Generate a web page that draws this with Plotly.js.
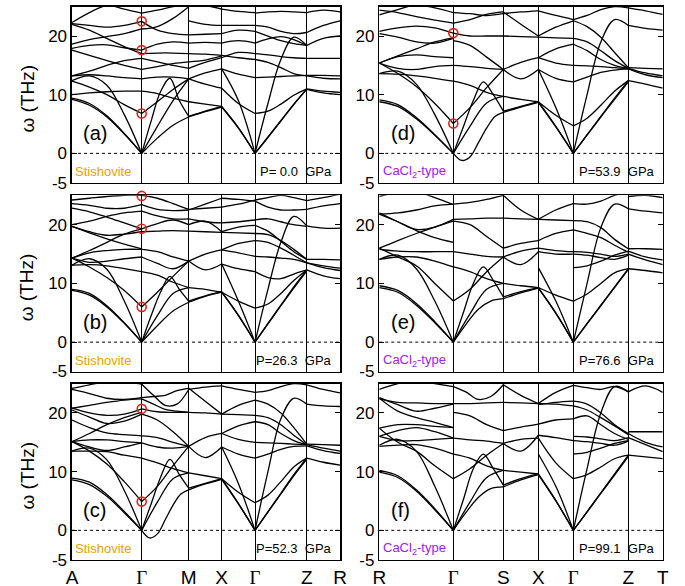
<!DOCTYPE html>
<html><head><meta charset="utf-8">
<script src="https://cdn.plot.ly/plotly-3.0.1.min.js"></script>
<style>html,body{margin:0;padding:0;background:#fff}#chart{width:685px;height:586px}</style>
</head><body><div id="chart"></div>
<script>
// k-path labels and positions (path length units)
const leftLabels = ['A','Γ','M','X','Γ','Z','R'];
const rightLabels = ['R','Γ','S','X','Γ','Z','T'];
const leftPos = [0, 69.7, 116.7, 149.7, 183, 234.7, 268];
const rightPos = [0, 74, 124, 159, 194, 249, 283.4];
const yTicks = [-5, 0, 10, 20];
const yTickText = ['-5', '0', '10', '20'];
const panelNames = ['(a)','(b)','(c)','(d)','(e)','(f)'];
const phaseNames = ['Stishovite','Stishovite','Stishovite','CaCl<sub>2</sub>-type','CaCl<sub>2</sub>-type','CaCl<sub>2</sub>-type'];
const pressureText = ['P=\u00a00.0\u00a0\u00a0GPa','P=26.3\u00a0\u00a0GPa','P=52.3\u00a0\u00a0GPa','P=53.9\u00a0\u00a0GPa','P=76.6\u00a0\u00a0GPa','P=99.1\u00a0\u00a0GPa'];

// Red marked modes at Gamma (THz)
const circA = [22.5, 17.6, 6.8];
const circB = [24.9, 19.3, 6.0];
const circC = [20.7, 4.9];
const circD = [20.5, 5.1];
const circE = [];
const circF = [];

// Phonon branches (THz), per path segment, values sampled evenly along each segment
const bandsA = [
 [[22.3,24.0,25.2,24.6,23.9],[22.1,21.8,21.5,21.8,22.5],[22.0,21.0,19.6,18.2,17.0],[18.6,19.4,19.9,20.4,21.2],
  [17.9,18.4,18.5,18.0,17.6],[17.6,16.7,15.8,15.0,14.3],[13.2,14.0,15.0,15.8,16.2],[13.2,13.4,13.2,12.9,12.7],
  [10.0,10.3,10.5,10.6,10.6],[12.3,11.3,10.0,8.3,6.8],[9.2,8.2,6.2,3.3,0],[9.4,8.5,6.4,3.4,0],[12.4,13.2,11.6,6.6,0]],
 [[23.9,24.4,25.0,25.4],[22.5,21.0,20.4,20.2],[21.2,21.6,23.0,25.0],[17.6,18.6,19.0,18.8],[17.0,17.1,17.1,17.0],
  [16.2,15.6,15.0,14.5],[14.3,14.8,15.3,15.6],[12.7,13.0,13.0,12.7],[10.6,10.2,9.4,8.8],[6.8,8.8,10.9,12.7],
  [0,4.6,9.0,12.7],[0,2.6,4.8,6.2],[0,5.5,10.5,12.8,9.0,6.3]],
 [[25.4,25.2,24.6],[20.2,20.3,20.4],[18.8,18.9,18.8],[17.0,16.9,16.7],[15.6,15.9,16.6],[14.5,15.5,16.3],
  [12.7,13.7,14.4],[12.7,11.8,11.1],[8.8,8.4,8.0],[6.3,7.2,8.0],[6.2,7.1,7.9],[22.6,22.0,21.8]],
 [[24.6,24.2,24.0],[21.8,21.8,21.8],[20.4,21.0,20.8],[18.8,19.2,18.8],[16.7,16.3,16.0],[16.3,17.2,17.0],
  [14.4,13.5,12.9],[11.1,8.5,6.8],[8.0,4.4,0],[7.9,4.3,0],[14.4,9.0,0]],
 [[23.9,24.1,24.2,24.1,24.0],[21.8,21.5,20.8,20.4,20.6],[20.8,20.0,19.2,18.7,18.4],[18.8,19.5,19.9,19.4,18.4],
  [0,8.5,16.0,19.8,18.4],[16.0,15.5,14.6,13.6,13.2],[12.9,13.0,13.1,13.2,13.3],[6.8,7.2,8.4,9.9,11.0],
  [0,2.8,5.6,8.4,11.0],[0,2.7,5.5,8.3,10.9],[17.0,16.8,16.5,16.3,16.2]],
 [[24.0,24.4,24.1],[20.6,21.8,22.6],[18.4,19.6,20.0],[16.2,16.2,16.2],[13.3,13.3,13.2],[13.2,12.8,12.7],
  [11.0,10.6,10.4],[10.9,10.3,10.0]]
];

const bandsB = [
 [[24.2,24.5,24.8,25.0,25.0],[23.6,23.3,22.8,22.8,23.4],[22.8,22.2,21.3,20.3,19.3],[20.0,20.6,21.4,22.0,22.3],
  [19.7,18.8,18.2,18.4,18.8],[19.7,18.6,17.6,16.7,15.9],[14.3,15.6,17.0,18.4,19.3],[14.3,15.2,15.6,15.8,15.8],
  [14.3,13.6,13.8,14.2,14.5],[13.1,13.2,13.0,12.5,12.0],[14.3,12.8,11.0,8.8,6.0],[8.8,8.0,6.0,3.2,0],
  [9.0,8.3,6.2,3.3,0],[13.1,14.2,12.4,7.0,0]],
 [[25.0,24.5,23.6,22.6],[23.4,22.6,22.4,22.5],[22.3,21.5,21.0,21.0],[19.3,20.2,20.8,20.0],[18.8,18.9,19.0,18.9],
  [15.8,15.4,14.5,13.8],[14.5,13.4,12.5,13.8],[12.0,11.4,10.2,9.3],[6.0,8.5,11.2,13.8],[0,4.5,8.3,9.3],
  [0,2.8,5.3,6.8],[0,4.5,8.5,11.2,9.0,7.0]],
 [[22.6,22.8,23.0],[22.5,23.5,24.5],[20.0,20.6,18.8],[21.0,20.5,20.3],[18.9,18.8,18.7],[13.8,12.3,13.3],
  [13.8,15.0,15.7],[9.3,9.0,8.5],[6.8,7.8,8.5],[7.0,7.9,8.6]],
 [[23.0,23.5,24.2],[24.5,24.3,24.0],[18.7,18.6,18.5],[18.8,19.6,19.9],[20.3,20.5,20.8],[15.7,16.8,17.3],
  [15.7,15.2,14.6],[13.3,12.5,12.0],[8.5,7.0,5.8],[8.5,4.6,0],[8.6,4.5,0],[13.3,7.0,0]],
 [[24.2,24.6,25.0,24.6,24.1],[24.0,23.0,22.5,22.5,22.6],[20.8,21.0,20.5,20.0,19.7],[19.9,18.9,17.2,15.4,14.1],
  [18.5,18.3,17.3,15.8,14.1],[17.3,17.0,16.0,14.8,13.5],[14.6,14.5,14.3,14.1,13.5],[0,9.0,17.0,21.4,19.8],
  [12.0,11.0,10.8,11.6,12.3],[5.8,6.5,8.3,10.5,12.3],[0,3.2,6.3,9.4,12.3],[0,3.1,6.2,9.2,12.1]],
 [[24.1,24.6,25.2],[22.6,23.2,23.6],[19.8,19.4,19.4],[14.1,14.1,14.0],[13.5,13.0,12.6],[13.5,12.7,12.2],
  [12.3,11.3,10.8]]
];

const bandsC = [
 [[24.2,24.8,25.3,25.3,24.9],[24.0,23.3,22.5,22.3,22.6],[20.8,21.3,21.8,22.2,22.4],[20.8,20.0,19.6,19.8,20.7],
  [20.5,19.3,18.2,18.6,19.8],[18.8,17.5,16.6,16.3,16.1],[15.1,16.5,18.0,19.2,20.1],[15.1,15.4,15.4,15.1,14.9],
  [15.1,14.2,13.6,14.2,14.9],[13.5,13.5,13.4,12.8,12.3],[15.1,13.5,11.3,8.3,4.9],[8.6,7.8,5.8,3.0,0],
  [8.9,8.2,6.1,3.2,0],[13.5,14.0,12.0,6.8,0]],
 [[24.9,23.0,21.3,21.5,24.0],[22.6,22.8,23.0,23.8,24.2],[22.4,21.5,20.6,20.3,20.1],[20.7,20.2,20.1,20.1],
  [19.8,18.8,16.8,14.3],[16.1,15.8,15.0,14.3],[14.9,14.2,14.0,14.3],[12.3,11.5,10.5,9.8],[4.9,7.5,11.0,14.3],
  [0,4.8,8.8,9.8],[0,-1.3,-0.6,1.8,4.3,6.2,6.9],[0,4.5,9.0,12.1,9.5,7.2]],
 [[24.0,24.4,24.6],[24.2,22.0,19.8],[20.1,20.0,19.8],[14.3,12.4,14.2],[14.3,15.8,16.5],[9.8,9.3,8.8],
  [7.2,8.0,8.8],[6.9,7.9,8.7]],
 [[19.8,21.3,22.2],[24.6,24.0,23.5],[19.8,19.7,19.6],[16.5,17.8,18.5],[16.5,15.5,15.0],[14.2,13.0,12.3],
  [8.8,6.5,4.7],[8.8,4.6,0],[8.7,4.5,0],[14.2,8.0,0]],
 [[22.2,21.5,20.0,17.5,14.7],[23.5,23.8,24.5,25.0,24.8],[19.6,19.2,18.0,16.2,14.6],[18.5,18.0,16.5,15.3,14.6],
  [15.0,14.9,14.8,14.7,14.6],[0,10.0,19.0,22.5,21.5],[4.7,6.0,8.3,10.8,12.3],[0,3.2,6.3,9.5,12.3],
  [0,3.1,6.2,9.3,12.1],[12.3,13.0,13.8,14.3,14.4]],
 [[24.8,24.0,23.4],[21.5,21.2,21.1],[14.7,14.6,14.5],[14.6,14.0,13.5],[14.4,13.6,13.1],[12.3,11.6,11.1]]
];

const bandsD = [
 [[24.4,24.0,23.3,22.7,22.2],[23.6,24.5,25.3,24.8,24.0],[20.8,21.4,21.7,21.4,20.5],[20.4,19.8,19.0,18.8,19.6],
  [15.4,16.6,17.8,19.0,19.7],[15.4,16.5,16.8,16.5,16.3],[15.4,14.5,14.3,14.8,15.0],[13.6,13.5,13.2,12.8,12.3],
  [15.4,13.6,11.4,8.5,5.1],[8.8,8.0,5.9,3.1,0],[9.1,8.3,6.1,3.2,0],[13.6,14.0,11.8,6.6,0]],
 [[22.2,22.8,23.7,24.1],[24.0,23.8,23.5,23.8],[20.5,20.0,20.0,20.0],[19.2,18.4,16.4,14.3],[15.0,14.8,14.5,14.3],
  [12.3,11.6,10.4,9.7],[5.1,7.8,11.2,14.3],[0,4.6,8.6,9.7],[0,-1.2,-0.6,1.8,4.3,6.3,7.0],[0,4.5,9.0,12.2,10.0,7.2]],
 [[24.1,22.0,20.0],[23.8,24.1,24.3],[20.0,19.9,19.8],[14.3,12.7,14.3],[14.3,15.5,16.3],[9.7,9.2,8.8],
  [7.2,8.0,8.8],[7.0,7.9,8.7]],
 [[20.0,21.5,22.6],[24.3,23.5,22.8],[19.8,19.7,19.6],[16.3,17.8,18.6],[16.3,15.4,15.0],[14.3,12.8,12.2],
  [8.8,6.5,4.7],[8.8,4.6,0],[8.7,4.5,0],[14.3,7.8,0]],
 [[22.6,21.6,19.8,17.2,14.6],[22.8,23.5,24.5,25.0,24.8],[19.6,19.0,17.5,15.8,14.5],[18.6,17.5,16.0,15.0,14.5],
  [15.0,14.9,14.8,14.6,14.4],[0,10.0,19.0,22.8,21.8],[4.7,6.0,8.2,10.6,12.4],[0,3.2,6.3,9.4,12.4],
  [0,3.1,6.2,9.2,12.2],[12.2,13.0,13.8,14.2,14.4]],
 [[24.8,24.3,23.7],[21.8,21.3,21.0],[14.6,14.5,14.4],[14.5,13.7,13.2],[14.4,13.4,12.9],[12.4,11.8,11.1]]
];

const bandsE = [
 [[24.8,25.5,25.6,24.6,23.4],[22.0,20.5,19.0,17.8,17.0],[21.8,22.0,22.5,23.2,23.5],[21.8,20.5,19.2,19.6,20.9],
  [16.0,17.3,18.5,19.6,20.6],[15.8,15.5,15.4,15.4,15.4],[14.1,14.5,14.5,13.8,12.8],[16.0,14.5,13.0,10.0,7.0],
  [9.3,8.5,6.3,3.3,0],[9.6,8.8,6.6,3.5,0],[14.1,14.8,12.5,7.0,0]],
 [[23.5,23.8,24.3,25.0],[20.9,21.0,21.1,21.1],[20.6,20.0,18.0,16.0],[15.4,15.0,14.6,14.5],[12.8,12.0,10.8,10.0],
  [7.0,9.0,12.0,14.5],[0,5.0,10.0,12.8,10.5,7.7],[0,3.0,5.6,7.0,7.4],[0,4.8,9.0,10.0]],
 [[25.0,22.5,20.9],[21.1,21.0,20.9],[16.0,16.8,17.3],[14.5,13.2,15.4],[14.5,15.5,16.0],[10.0,9.6,9.3],
  [7.7,8.6,9.3],[7.4,8.4,9.2]],
 [[20.9,22.5,23.6],[20.9,20.8,20.7],[17.3,18.5,19.1],[16.0,15.6,15.4],[15.4,15.0,15.0],[9.3,8.0,7.0],
  [9.3,5.0,0],[9.2,4.9,0],[12.7,7.0,0]],
 [[23.6,23.5,24.0,25.0,25.5],[20.7,20.5,19.5,17.5,15.9],[19.1,18.5,17.8,16.5,15.3],[15.4,15.3,15.0,14.6,15.0],
  [15.0,14.8,14.4,14.1,14.8],[0,10.0,19.5,23.5,22.7],[7.0,8.2,10.0,11.8,12.5],[0,3.2,6.3,9.4,12.5],
  [0,3.1,6.2,9.3,12.4],[12.7,13.0,13.8,14.8,15.5]],
 [[22.7,22.3,22.0],[24.8,25.0,24.6],[15.9,15.9,15.8],[15.5,14.5,14.0],[15.0,14.0,13.2],[12.5,12.2,11.8]]
];

const bandsF = [
 [[24.0,25.0,25.5,25.0,24.5],[22.6,21.4,20.3,20.8,21.5],[22.4,21.8,21.7,21.6,21.6],[22.5,20.3,19.2,18.4,17.5],
  [17.4,18.0,18.0,17.7,17.5],[16.0,17.0,17.5,16.8,15.7],[16.0,15.3,15.3,15.5,15.7],[14.3,14.5,14.6,14.0,13.0],
  [17.4,15.0,13.5,11.0,8.8],[9.9,9.0,6.7,3.5,0],[10.2,9.3,6.9,3.7,0],[14.5,15.5,13.5,7.5,0]],
 [[24.5,23.6,22.3,22.8,24.8],[21.6,21.6,21.7,21.8],[20.1,19.5,18.0,17.0],[15.7,15.4,15.2,14.8],[13.0,12.3,11.0,10.2],
  [8.8,10.5,12.8,14.8],[0,5.2,10.5,13.0,10.5,7.7],[0,3.0,5.6,7.1,7.4],[0,4.8,9.0,10.2]],
 [[24.8,23.0,21.6],[21.8,21.7,21.6],[17.0,17.6,18.1],[14.8,13.5,16.2],[14.8,15.5,15.7],[10.2,9.9,9.6],
  [7.7,8.8,9.6],[7.4,8.6,9.5]],
 [[21.6,23.5,24.7],[21.6,21.5,21.2],[21.4,21.8,22.0],[18.1,18.8,19.0],[16.2,15.8,15.3],[15.7,11.5,8.8],
  [9.6,5.1,0],[9.5,5.0,0],[13.0,7.5,0]],
 [[24.7,24.3,24.0,24.5,23.6],[22.0,21.5,20.0,18.0,16.5],[21.2,20.5,19.2,17.8,16.3],[16.0,15.9,15.6,15.3,15.8],
  [15.3,15.1,14.8,14.5,15.2],[0,10.5,20.0,24.5,23.6],[8.8,9.5,10.8,12.2,12.8],[0,3.2,6.4,9.6,12.8],
  [0,3.1,6.3,9.4,12.6],[13.0,13.3,14.0,14.8,15.3],[19.0,19.5,18.0,16.5,15.5]],
 [[23.6,24.6,23.5],[16.8,16.8,16.8],[16.5,15.0,14.2],[15.8,14.6,13.4],[12.8,12.5,12.2]]
];

const allBands = [bandsA, bandsB, bandsC, bandsD, bandsE, bandsF];
const allCirc = [circA, circB, circC, circD, circE, circF];

// geometry
const colDom = [[0.1051, 0.4964], [0.5537, 0.9675]];
const rowDom = [[0.6882, 0.9886], [0.3660, 0.6667], [0.0449, 0.3454]];
const FONT = 'Liberation Sans, Arial, Helvetica, sans-serif';
const gam = '<span style="font-family:Liberation Serif, serif">Γ</span>';

const traces = [];
const layout = {
  width: 685, height: 586, margin: {l:0, r:0, t:0, b:0},
  paper_bgcolor: '#fff', plot_bgcolor: '#fff', showlegend: false,
  font: {family: FONT, color: '#000'},
  annotations: [], shapes: []
};

for (let p = 0; p < 6; p++) {
  const col = p < 3 ? 0 : 1;
  const row = p % 3;
  const n = p + 1;
  const xa = 'xaxis' + (n === 1 ? '' : n), ya = 'yaxis' + (n === 1 ? '' : n);
  const xr = 'x' + (n === 1 ? '' : n), yr = 'y' + (n === 1 ? '' : n);
  const pos = col === 0 ? leftPos : rightPos;
  const labels = (col === 0 ? leftLabels : rightLabels).map(s => s === 'Γ' ? gam : s);
  const xs = [], ys = [];
  allBands[p].forEach((seg, s) => {
    const x0 = pos[s], x1 = pos[s + 1];
    seg.forEach(line => {
      const m = line.length;
      line.forEach((v, i) => { xs.push(x0 + (x1 - x0) * i / (m - 1)); ys.push(v); });
      xs.push(null); ys.push(null);
    });
  });
  traces.push({x: xs, y: ys, type: 'scatter', mode: 'lines', xaxis: xr, yaxis: yr,
    line: {color: '#000', width: 1.3, shape: 'spline', smoothing: 1}, hoverinfo: 'skip', connectgaps: false});
  if (allCirc[p].length) {
    traces.push({x: allCirc[p].map(() => pos[1]), y: allCirc[p], type: 'scatter', mode: 'markers',
      xaxis: xr, yaxis: yr, cliponaxis: false,
      marker: {symbol: 'circle-open', size: 9, color: '#e8201a', line: {width: 1.6, color: '#e8201a'}}, hoverinfo: 'skip'});
  }
  layout[xa] = {domain: colDom[col], range: [pos[0], pos[6]], tickmode: 'array', tickvals: pos, ticktext: labels,
    showticklabels: row === 2, ticks: '', showgrid: true, gridcolor: '#000', gridwidth: 1,
    zeroline: false, showline: true, mirror: true, linecolor: '#000', linewidth: 1.5,
    tickfont: {size: 19, family: FONT, color: '#000'}, anchor: yr, fixedrange: true};
  layout[ya] = {domain: rowDom[row], range: [-5, 25], tickmode: 'array', tickvals: yTicks, ticktext: yTickText,
    ticks: 'inside', ticklen: 5, tickwidth: 1, tickcolor: '#000', showgrid: false, zeroline: false,
    showline: true, mirror: 'ticks', linecolor: '#000', linewidth: 1.5,
    tickfont: {size: 17, family: FONT, color: '#000'}, anchor: xr, fixedrange: true};
  layout.shapes.push({type: 'line', xref: xr + ' domain', yref: yr, x0: 0, x1: 1, y0: 0, y1: 0,
    line: {color: '#000', width: 1, dash: 'dot'}});
  layout.annotations.push({text: panelNames[p], xref: xr, yref: yr, x: 9.5, y: 3.5, xanchor: 'left', yanchor: 'middle',
    showarrow: false, font: {size: 20, family: FONT, color: '#000'}});
  layout.annotations.push({text: phaseNames[p], xref: xr, yref: yr, x: 1.3, y: -3.1, xanchor: 'left', yanchor: 'middle',
    showarrow: false, font: {size: 13, family: FONT, color: col === 0 ? '#f0a000' : '#a020f0'}});
  layout.annotations.push({text: pressureText[p], xref: xr, yref: yr, x: pos[6], xshift: -6, y: -3.1,
    xanchor: 'right', yanchor: 'middle', showarrow: false, font: {size: 13, family: FONT, color: '#000'}});
  if (col === 0) {
    const yc = (rowDom[row][0] + rowDom[row][1]) / 2 - 0.006;
    layout.annotations.push({text: 'ω (THz)', xref: 'paper', yref: 'paper', x: 0.040, y: yc,
      xanchor: 'center', yanchor: 'middle', textangle: -90, showarrow: false,
      font: {size: 19, family: FONT, color: '#000'}});
  }
}

Plotly.newPlot('chart', traces, layout, {displayModeBar: false, staticPlot: true});
</script></body></html>
